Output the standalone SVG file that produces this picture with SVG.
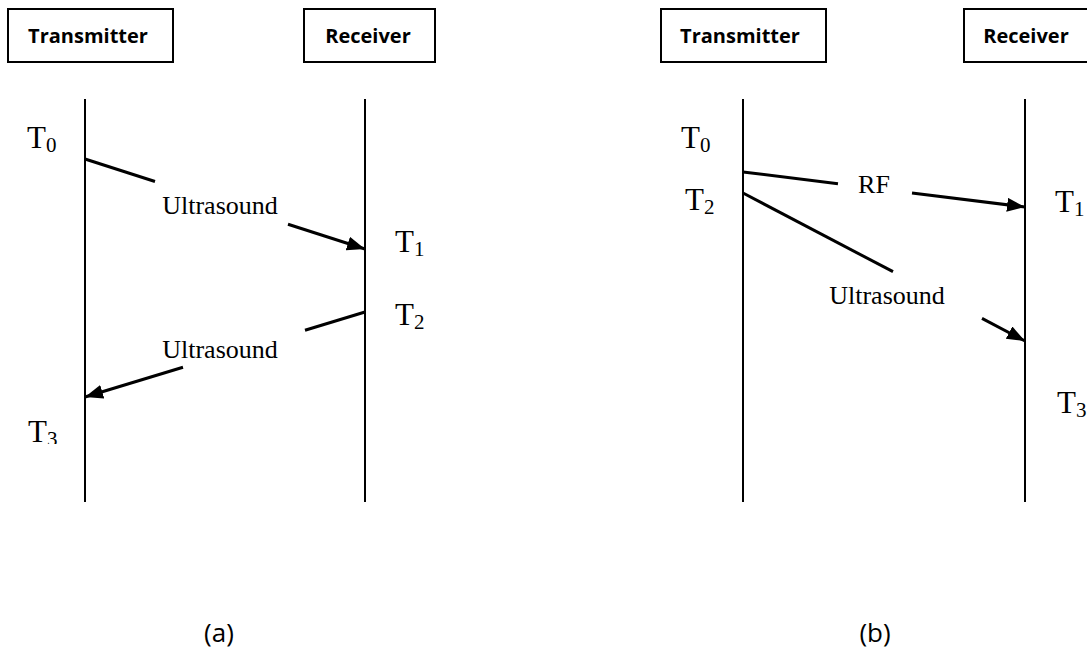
<svg xmlns="http://www.w3.org/2000/svg" width="1087" height="654" viewBox="0 0 1087 654">
  <style>
    .box { fill: #ffffff; stroke: #000000; stroke-width: 2; }
    .box-label { font-family: "Open Sans", "Liberation Sans", sans-serif; font-weight: 700; font-size: 20px; fill: #000000; text-anchor: middle; }
    .lifeline { stroke: #000000; stroke-width: 2; fill: none; }
    .msg { stroke: #000000; stroke-width: 3; fill: none; }
    .time { font-family: "Liberation Serif", "Times New Roman", serif; font-size: 31px; fill: #000000; }
    .sub { font-size: 21px; }
    .msg-label { font-family: "Liberation Serif", "Times New Roman", serif; font-size: 26px; fill: #000000; text-anchor: middle; }
    .caption { font-family: "Open Sans", "Liberation Sans", sans-serif; font-size: 26px; fill: #000000; text-anchor: middle; }
  </style>
  <defs>
    <marker id="arrow" markerUnits="userSpaceOnUse" markerWidth="19" markerHeight="15" refX="18" refY="7" orient="auto">
      <path d="M0,0 L18,7 L0,14 Z" fill="#000000"/>
    </marker>
    <clipPath id="clip-t3">
      <rect x="0" y="400" width="80" height="44"/>
    </clipPath>
  </defs>
  <rect width="1087" height="654" fill="#ffffff"/>

  <!-- (a) round-trip ultrasound ranging -->
  <g id="a-transmitter">
    <rect class="box" x="8" y="9" width="165" height="53"/>
    <text class="box-label" x="88" y="43">Transmitter</text>
  </g>
  <g id="a-receiver">
    <rect class="box" x="304" y="9" width="131" height="53"/>
    <text class="box-label" x="368" y="43">Receiver</text>
  </g>
  <g id="a-lifelines">
    <line class="lifeline" x1="85" y1="99" x2="85" y2="502"/>
    <line class="lifeline" x1="365" y1="99" x2="365" y2="502"/>
  </g>
  <g id="a-times">
    <text class="time" x="27" y="148">T<tspan class="sub" dy="4">0</tspan></text>
    <text class="time" x="395" y="252">T<tspan class="sub" dy="4">1</tspan></text>
    <text class="time" x="395" y="325">T<tspan class="sub" dy="4">2</tspan></text>
    <text class="time" x="28" y="442" clip-path="url(#clip-t3)">T<tspan class="sub" dy="4">3</tspan></text>
  </g>
  <g id="a-connectors">
    <line class="msg" x1="85" y1="159" x2="155" y2="181.5"/>
    <line class="msg" x1="288" y1="224.3" x2="365" y2="249" marker-end="url(#arrow)"/>
    <line class="msg" x1="365" y1="312" x2="305" y2="330.2"/>
    <line class="msg" x1="183" y1="367.2" x2="85" y2="397" marker-end="url(#arrow)"/>
  </g>
  <g id="a-labels">
    <text class="msg-label" x="220" y="214">Ultrasound</text>
    <text class="msg-label" x="220" y="358">Ultrasound</text>
    <text class="caption" x="219" y="642">(a)</text>
  </g>

  <!-- (b) RF synchronised one-way ultrasound ranging -->
  <g id="b-transmitter">
    <rect class="box" x="661" y="9" width="165" height="53"/>
    <text class="box-label" x="740" y="43">Transmitter</text>
  </g>
  <g id="b-receiver">
    <rect class="box" x="964" y="9" width="131" height="53"/>
    <text class="box-label" x="1026" y="43">Receiver</text>
  </g>
  <g id="b-lifelines">
    <line class="lifeline" x1="743" y1="99" x2="743" y2="502"/>
    <line class="lifeline" x1="1025" y1="99" x2="1025" y2="502"/>
  </g>
  <g id="b-times">
    <text class="time" x="681" y="148">T<tspan class="sub" dy="4">0</tspan></text>
    <text class="time" x="685" y="210">T<tspan class="sub" dy="4">2</tspan></text>
    <text class="time" x="1055" y="212">T<tspan class="sub" dy="4">1</tspan></text>
    <text class="time" x="1057" y="413">T<tspan class="sub" dy="4">3</tspan></text>
  </g>
  <g id="b-connectors">
    <line class="msg" x1="743" y1="172" x2="838" y2="183.8"/>
    <line class="msg" x1="912" y1="193" x2="1025" y2="207" marker-end="url(#arrow)"/>
    <line class="msg" x1="743" y1="193" x2="893" y2="271.7"/>
    <line class="msg" x1="982" y1="318.4" x2="1025" y2="341" marker-end="url(#arrow)"/>
  </g>
  <g id="b-labels">
    <text class="msg-label" x="874" y="193">RF</text>
    <text class="msg-label" x="887" y="304">Ultrasound</text>
    <text class="caption" x="875" y="642">(b)</text>
  </g>
</svg>
